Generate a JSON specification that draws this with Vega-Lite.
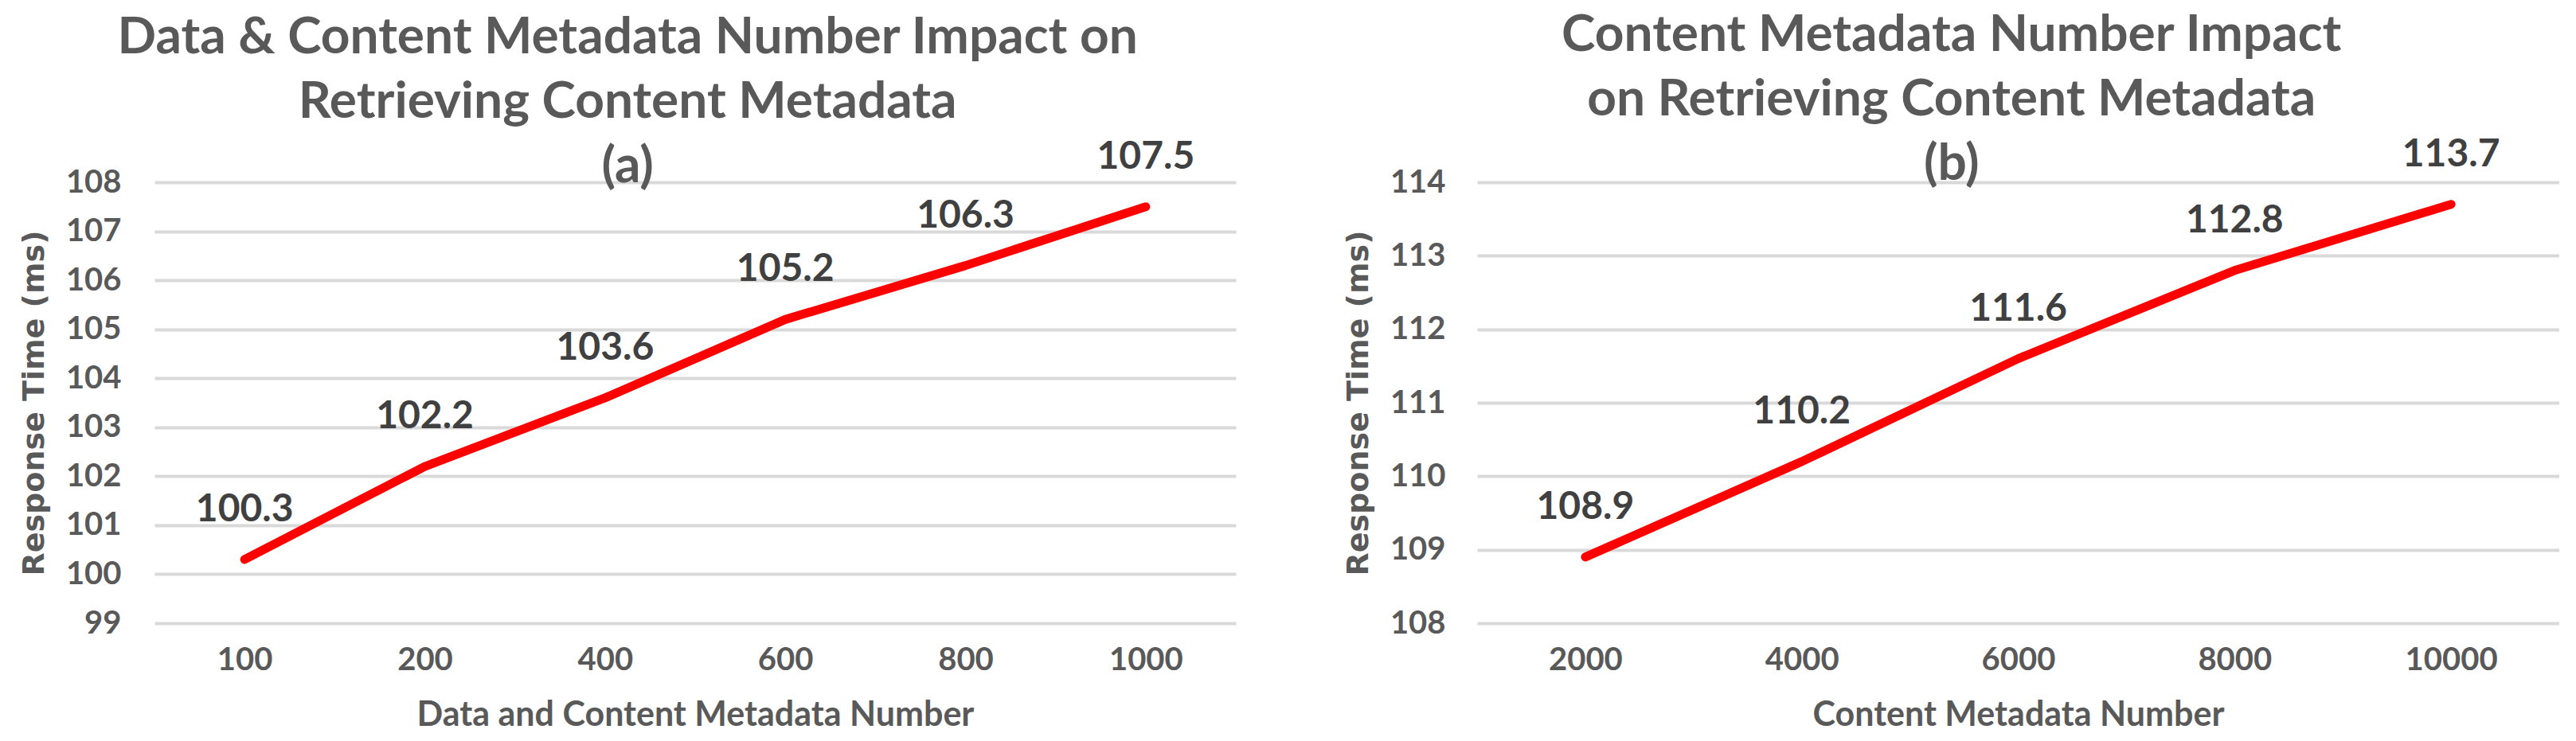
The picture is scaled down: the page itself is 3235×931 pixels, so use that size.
{
  "$schema": "https://vega.github.io/schema/vega-lite/v6.json",
  "background": "white",
  "padding": {"left": 24, "top": 12, "right": 0, "bottom": 0},
  "spacing": 135,
  "config": {
    "view": {"stroke": null},
    "axis": {
      "labelFont": "Lato", "labelFontWeight": "bold", "labelColor": "#595959", "labelFontSize": 40,
      "titleFont": "Lato", "titleFontWeight": "bold", "titleColor": "#595959", "titleFontSize": 43,
      "gridColor": "#D9D9D9", "gridWidth": 4, "domain": false, "ticks": false, "tickSize": 0
    },
    "title": {"font": "Lato", "fontWeight": "bold", "fontSize": 64, "color": "#595959", "lineHeight": 81, "anchor": "middle", "frame": "bounds", "baseline": "bottom", "offset": -68}
  },
  "datasets": {
    "a": [
      {"n": "100", "t": 100.3}, {"n": "200", "t": 102.2}, {"n": "400", "t": 103.6},
      {"n": "600", "t": 105.2}, {"n": "800", "t": 106.3}, {"n": "1000", "t": 107.5}
    ],
    "b": [
      {"n": "2000", "t": 108.9}, {"n": "4000", "t": 110.2}, {"n": "6000", "t": 111.6},
      {"n": "8000", "t": 112.8}, {"n": "10000", "t": 113.7}
    ]
  },
  "hconcat": [
    {
      "title": {"text": ["Data & Content Metadata Number Impact on", "Retrieving Content Metadata", "(a)"]},
      "width": 1358, "height": 554,
      "data": {"name": "a"},
      "encoding": {
        "x": {"field": "n", "type": "ordinal", "sort": null, "scale": {"type": "point", "padding": 0.5},
              "axis": {"labelAngle": 0, "labelPadding": 26, "grid": false, "title": "Data and Content Metadata Number", "titlePadding": 28}},
        "y": {"field": "t", "type": "quantitative", "scale": {"domain": [99, 108], "zero": false, "nice": false},
              "axis": {"values": [99, 100, 101, 102, 103, 104, 105, 106, 107, 108], "labelPadding": 42, "title": "Response Time (ms)",
                       "titleFont": "DejaVu Sans", "titleFontSize": 38, "titlePadding": 20}}
      },
      "layer": [
        {"mark": {"type": "line", "color": "#FF0000", "strokeWidth": 11, "strokeCap": "round", "strokeJoin": "round"}},
        {"mark": {"type": "text", "dy": -62, "font": "Lato", "fontWeight": "bold", "fontSize": 48, "color": "#404040", "baseline": "middle"},
         "encoding": {"text": {"field": "t", "type": "quantitative", "format": ".1f"}}}
      ]
    },
    {
      "title": {"text": ["Content Metadata Number Impact", "on Retrieving Content Metadata", "(b)"]},
      "width": 1359, "height": 554,
      "data": {"name": "b"},
      "encoding": {
        "x": {"field": "n", "type": "ordinal", "sort": null, "scale": {"type": "point", "padding": 0.5},
              "axis": {"labelAngle": 0, "labelPadding": 26, "grid": false, "title": "Content Metadata Number", "titlePadding": 28}},
        "y": {"field": "t", "type": "quantitative", "scale": {"domain": [108, 114], "zero": false, "nice": false},
              "axis": {"values": [108, 109, 110, 111, 112, 113, 114], "labelPadding": 40, "title": "Response Time (ms)",
                       "titleFont": "DejaVu Sans", "titleFontSize": 38, "titlePadding": 20}}
      },
      "layer": [
        {"mark": {"type": "line", "color": "#FF0000", "strokeWidth": 11, "strokeCap": "round", "strokeJoin": "round"}},
        {"mark": {"type": "text", "dy": -62, "font": "Lato", "fontWeight": "bold", "fontSize": 48, "color": "#404040", "baseline": "middle"},
         "encoding": {"text": {"field": "t", "type": "quantitative", "format": ".1f"}}}
      ]
    }
  ]
}
